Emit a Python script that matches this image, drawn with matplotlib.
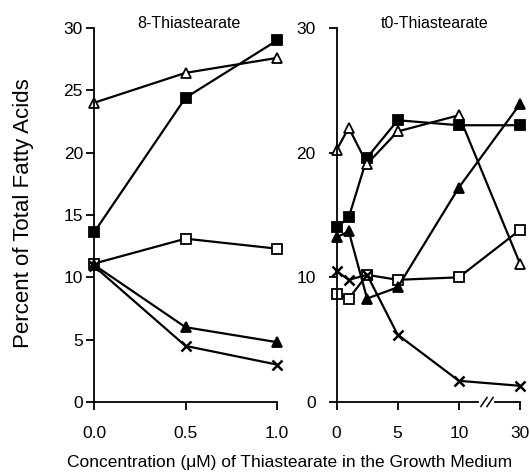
import numpy as np
import matplotlib
matplotlib.use("Agg")
import matplotlib.pyplot as plt
import matplotlib.transforms as mtransforms

plt.rcParams['font.family'] = ['Liberation Sans', 'DejaVu Sans']

# ---- data ----
left_conc = [0.0, 0.5, 1.0]
left_filled_sq = [13.6, 24.4, 29.0]
left_open_tri = [24.0, 26.4, 27.6]
left_open_sq = [11.1, 13.1, 12.3]
left_filled_tri = [11.0, 6.0, 4.8]
left_cross = [10.9, 4.5, 3.0]

right_conc = [0, 1, 2.5, 5, 10, 30]
right_filled_sq = [14.0, 14.8, 19.6, 22.6, 22.2, 22.2]
right_open_tri = [20.2, 22.0, 19.1, 21.7, 23.0, 11.1]
right_filled_tri = [13.2, 13.7, 8.3, 9.2, 17.2, 23.9]
right_open_sq = [8.7, 8.3, 10.2, 9.8, 10.0, 13.8]
right_cross = [10.5, 9.8, 10.2, 5.4, 1.7, 1.3]

left_xticks = [0.0, 0.5, 1.0]
left_xticklabels = ["0.0", "0.5", "1.0"]
left_yticks = [0, 5, 10, 15, 20, 25, 30]
right_xticks = [0, 5, 10, 30]
right_xticklabels = ["0", "5", "10", "30"]
right_yticks = [0, 10, 20, 30]

W, H = 530, 473
fig = plt.figure(figsize=(W / 100, H / 100), dpi=100)

y0px, y30px = 402, 28
axL = fig.add_axes([94 / W, (H - y0px) / H, (277 - 94) / W, (y0px - y30px) / H])
axR = fig.add_axes([336.5 / W, (H - y0px) / H, (520 - 336.5) / W, (y0px - y30px) / H])

def fwd(x):
    x = np.asarray(x, dtype=float)
    return np.where(x <= 10, x, 10 + (x - 10) / 4.0)

def inv(y):
    y = np.asarray(y, dtype=float)
    return np.where(y <= 10, y, 10 + (y - 10) * 4.0)

axR.set_xscale('function', functions=(fwd, inv))

styles = [
    dict(marker='s', mfc='black', mec='black', ms=6.5),
    dict(marker='^', mfc='white', mec='black', ms=7),
    dict(marker='s', mfc='white', mec='black', ms=7),
    dict(marker='^', mfc='black', mec='black', ms=7),
    dict(marker='x', mfc='black', mec='black', ms=7.5, mew=1.8),
]

left_series = [left_filled_sq, left_open_tri, left_open_sq, left_filled_tri, left_cross]
right_series = [right_filled_sq, right_open_tri, right_open_sq, right_filled_tri, right_cross]

for ys, st in zip(left_series, styles):
    kw = dict(color='black', lw=1.6, clip_on=False, mew=1.3)
    kw.update(st)
    axL.plot(left_conc, ys, **kw)
for ys, st in zip(right_series, styles):
    kw = dict(color='black', lw=1.6, clip_on=False, mew=1.3)
    kw.update(st)
    axR.plot(right_conc, ys, **kw)

fs_tick = 12.5
for ax in (axL, axR):
    ax.set_ylim(0, 30)
    ax.spines['top'].set_visible(False)
    ax.spines['right'].set_visible(False)
    ax.spines['left'].set_linewidth(1.3)
    ax.spines['bottom'].set_linewidth(1.3)
    ax.tick_params(axis='both', direction='out', length=6, width=1.3,
                   labelsize=fs_tick, colors='black')
    ax.tick_params(axis='y', pad=2)
    ax.tick_params(axis='x', pad=11)
    ax.set_facecolor('none')

axL.set_xlim(0, 1.0)
axL.set_xticks(left_xticks)
axL.set_xticklabels(left_xticklabels)
axL.set_yticks(left_yticks)

axR.set_xlim(0, 30)
axR.set_xticks(right_xticks)
axR.set_xticklabels(right_xticklabels)
axR.set_yticks(right_yticks)
axR.minorticks_off()
axR.tick_params(axis='y', pad=9)

# axis break marks on the right panel
trans = mtransforms.blended_transform_factory(axR.transData, axR.transAxes)
bx = 19.2
axR.plot([inv(fwd(bx) - 0.45), inv(fwd(bx) + 0.45)], [0, 0], color='white', lw=3,
         transform=trans, clip_on=False, zorder=5)
for dx in (-0.25, 0.25):
    xc = fwd(bx) + dx
    axR.plot([inv(xc - 0.25), inv(xc + 0.25)], [-0.012, 0.012], color='black', lw=1.1,
             transform=trans, clip_on=False, zorder=6)

fig.text(189 / W, 1 - 23 / H, "8-Thiastearate", ha='center', va='center', fontsize=11.5)
fig.text(435 / W, 1 - 23 / H, "t0-Thiastearate", ha='center', va='center', fontsize=11.5)
fig.text(24 / W, 1 - 213.5 / H, "Percent of Total Fatty Acids", rotation=90,
         ha='center', va='center', fontsize=16)
fig.text(289.5 / W, 1 - 462 / H, "Concentration (\u03bcM) of Thiastearate in the Growth Medium",
         ha='center', va='center', fontsize=12.5)

fig.savefig("out.png", dpi=100, facecolor='white')
